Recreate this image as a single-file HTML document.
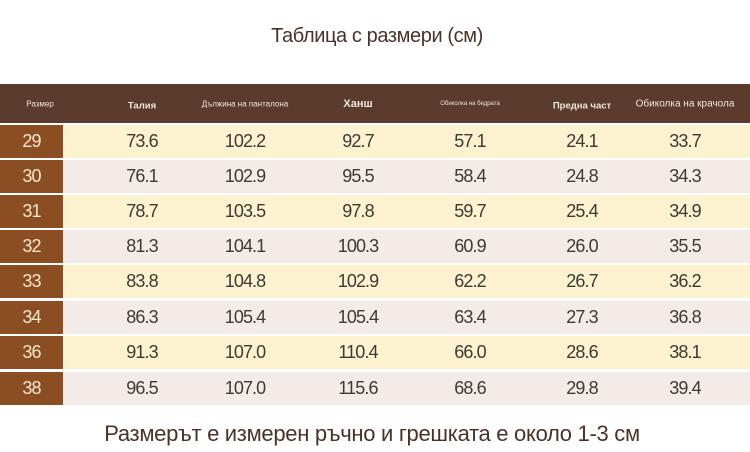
<!DOCTYPE html>
<html><head><meta charset="utf-8">
<style>
*{margin:0;padding:0;box-sizing:border-box}
body{width:750px;height:452px;background:#fff;position:relative;overflow:hidden;font-family:"Liberation Sans","DejaVu Sans",sans-serif}
.t{position:absolute;white-space:nowrap;transform:translateX(-50%)}
.title{left:377px;top:25px;font-size:20px;color:#4a3228;letter-spacing:-0.4px}
.foot{left:372px;top:421px;font-size:22px;color:#4a3228;letter-spacing:-0.3px}
.hdr{position:absolute;left:0;top:84px;width:750px;height:39px;background:#5b3b2b}
.h{position:absolute;color:#f3e6da;white-space:nowrap;transform:translate(-50%,-50%);top:104px}
.row{position:absolute;left:0;width:750px;height:33px}
.sz{position:absolute;left:0;top:0;width:63px;height:100%;background:#8a4e22;color:#f7e6cc;font-size:18px;letter-spacing:-0.9px;text-align:center;line-height:33px}
.odd{background:#fdf2cf}.even{background:#f2ebe8}
.v{position:absolute;top:0;line-height:33px;font-size:18px;color:#3c3a35;letter-spacing:-0.9px;transform:translateX(-50%)}
</style></head><body>
<div class="t title">Таблица с размери (см)</div>
<div class="hdr"></div>
<div class="h" style="left:40px;font-size:8px">Размер</div>
<div class="h" style="left:142px;font-size:9.5px;font-weight:bold;top:106px">Талия</div>
<div class="h" style="left:245px;font-size:8px">Дължина на панталона</div>
<div class="h" style="left:358px;font-size:11px;font-weight:bold">Ханш</div>
<div class="h" style="left:470px;font-size:6px">Обиколка на бедрата</div>
<div class="h" style="left:582px;font-size:9.5px;font-weight:bold;top:106px">Предна част</div>
<div class="h" style="left:685px;font-size:10px">Обиколка на крачола</div>

<div class="row odd" style="top:125px"><div class="sz">29</div><div class="v" style="left:142px">73.6</div><div class="v" style="left:245px">102.2</div><div class="v" style="left:358px">92.7</div><div class="v" style="left:470px">57.1</div><div class="v" style="left:582px">24.1</div><div class="v" style="left:685px">33.7</div></div>
<div class="row even" style="top:160px"><div class="sz">30</div><div class="v" style="left:142px">76.1</div><div class="v" style="left:245px">102.9</div><div class="v" style="left:358px">95.5</div><div class="v" style="left:470px">58.4</div><div class="v" style="left:582px">24.8</div><div class="v" style="left:685px">34.3</div></div>
<div class="row odd" style="top:195px"><div class="sz">31</div><div class="v" style="left:142px">78.7</div><div class="v" style="left:245px">103.5</div><div class="v" style="left:358px">97.8</div><div class="v" style="left:470px">59.7</div><div class="v" style="left:582px">25.4</div><div class="v" style="left:685px">34.9</div></div>
<div class="row even" style="top:230px"><div class="sz">32</div><div class="v" style="left:142px">81.3</div><div class="v" style="left:245px">104.1</div><div class="v" style="left:358px">100.3</div><div class="v" style="left:470px">60.9</div><div class="v" style="left:582px">26.0</div><div class="v" style="left:685px">35.5</div></div>
<div class="row odd" style="top:265px"><div class="sz">33</div><div class="v" style="left:142px">83.8</div><div class="v" style="left:245px">104.8</div><div class="v" style="left:358px">102.9</div><div class="v" style="left:470px">62.2</div><div class="v" style="left:582px">26.7</div><div class="v" style="left:685px">36.2</div></div>
<div class="row even" style="top:301px"><div class="sz">34</div><div class="v" style="left:142px">86.3</div><div class="v" style="left:245px">105.4</div><div class="v" style="left:358px">105.4</div><div class="v" style="left:470px">63.4</div><div class="v" style="left:582px">27.3</div><div class="v" style="left:685px">36.8</div></div>
<div class="row odd" style="top:336px"><div class="sz">36</div><div class="v" style="left:142px">91.3</div><div class="v" style="left:245px">107.0</div><div class="v" style="left:358px">110.4</div><div class="v" style="left:470px">66.0</div><div class="v" style="left:582px">28.6</div><div class="v" style="left:685px">38.1</div></div>
<div class="row even" style="top:372px"><div class="sz">38</div><div class="v" style="left:142px">96.5</div><div class="v" style="left:245px">107.0</div><div class="v" style="left:358px">115.6</div><div class="v" style="left:470px">68.6</div><div class="v" style="left:582px">29.8</div><div class="v" style="left:685px">39.4</div></div>

<div class="t foot">Размерът е измерен ръчно и грешката е около 1-3 см</div>
</body></html>
